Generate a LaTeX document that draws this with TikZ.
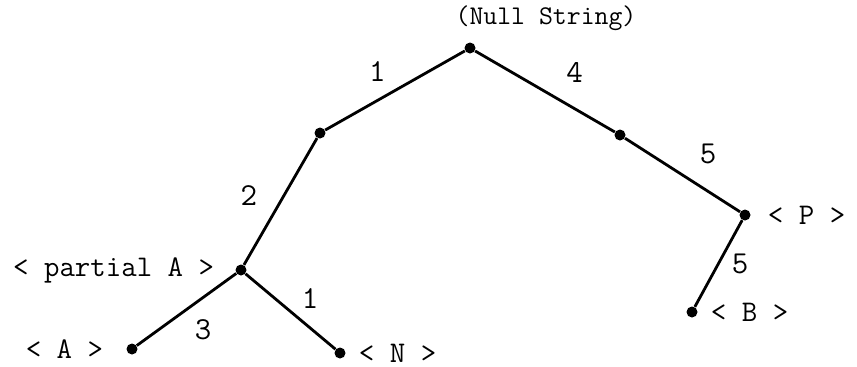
\documentclass[tikz,border=0pt]{standalone}
\usetikzlibrary{positioning}
\tikzset{
  every node/.append style={font=\ttfamily\fontsize{15}{17}\selectfont},
  vertex/.style={circle, fill, inner sep=0pt, minimum size=5.5pt},
  branch/.style={line width=1.4pt},
  weight/.style={inner sep=4pt, font=\ttfamily\fontsize{16}{18}\selectfont},
}

\begin{document}
\begin{tikzpicture}[x=0.5pt, y=-0.5pt]
    \useasboundingbox (0,0) rectangle (857,366);
    % tree vertices
    \node[vertex] (root) at (470,48) {};
    \node[vertex] (lft) at (320,133) {};
    \node[vertex] (rgt) at (620,135) {};
    \node[vertex] (p) at (745,215) {};
    \node[vertex] (pa) at (241,270) {};
    \node[vertex] (b) at (692,312) {};
    \node[vertex] (a) at (132,349) {};
    \node[vertex] (n) at (340,353) {};
    % vertex names
    \node[font=\ttfamily\fontsize{13.5}{15}\selectfont] (nulltxt) at (546,18) {(Null String)};
    \node[right=5pt of p] (ptxt) {< P >};
    \node[left=7pt of pa] (patxt) {< partial A >};
    \node[left=8pt of a] (atxt) {< A >};
    \node[right=3pt of n] (ntxt) {< N >};
    \node[right=3pt of b] (btxt) {< B >};
    % branches with weights
    \draw[branch] (root) -- (lft) node[weight, midway, above left] (w1) {1};
    \draw[branch] (root) -- (rgt) node[weight, midway, above right, xshift=6pt] (w2) {4};
    \draw[branch] (rgt) -- (p) node[weight, midway, above right, xshift=4pt, yshift=1pt] (w3) {5};
    \draw[branch] (lft) -- (pa) node[weight, midway, left, xshift=-7pt, yshift=3pt] (w4) {2};
    \draw[branch] (p) -- (b) node[weight, midway, right, xshift=2pt] (w5) {5};
    \draw[branch] (pa) -- (a) node[weight, pos=0.45, below right, xshift=-3pt, yshift=-2pt] (w6) {3};
    \draw[branch] (pa) -- (n) node[weight, pos=0.5, above right, xshift=1pt, yshift=-3pt] (w7) {1};
\end{tikzpicture}
\end{document}
